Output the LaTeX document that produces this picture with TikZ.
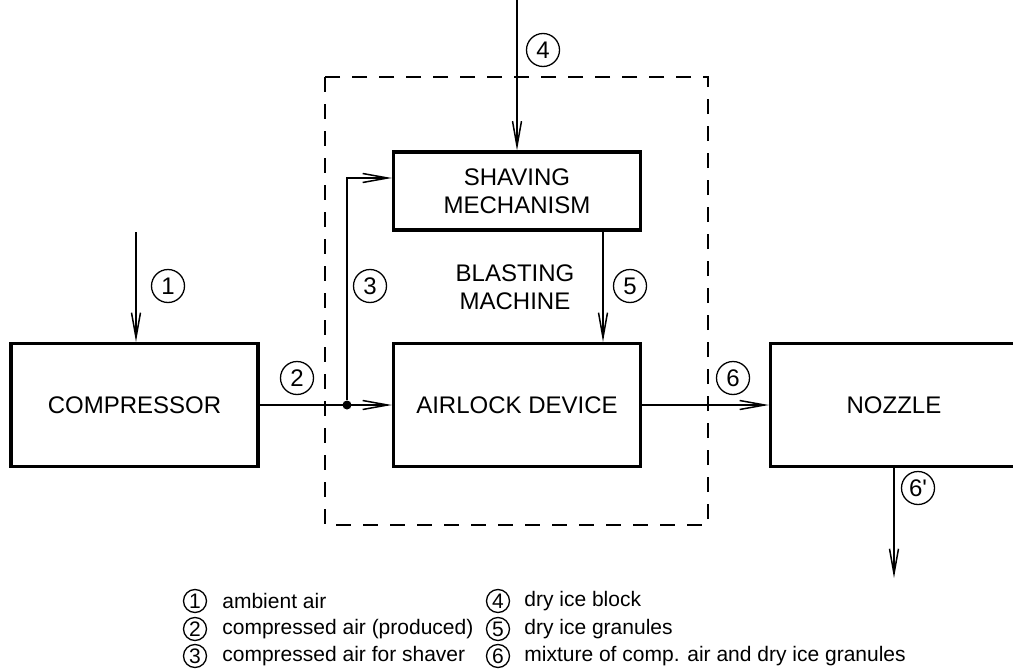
\documentclass[tikz,border=0pt]{standalone}
\usepackage{fontspec}
\setmainfont{Liberation Sans}
\usetikzlibrary{arrows.meta}

\tikzset{
  unit/.style={draw,line width=1.6pt,minimum width=123.5pt,minimum height=61.5pt,
    align=center,font=\fontsize{12}{14}\selectfont},
  flow/.style={line width=0.75pt,-{Straight Barb[length=12.5pt,width=4.5pt]}},
  num/.style={circle,draw,line width=0.65pt,inner sep=0pt,minimum size=16.5pt,
    font=\fontsize{12}{12}\selectfont},
  keynum/.style={circle,draw,line width=0.65pt,inner sep=0pt,minimum size=11.5pt,
    font=\fontsize{10.5}{12}\selectfont},
  keytext/.style={anchor=west,inner sep=0pt,font=\fontsize{10.5}{13}\selectfont}
}

\begin{document}
\begin{tikzpicture}[x=0.5pt,y=-0.5pt]
\useasboundingbox (0,0) rectangle (1013,669);
% blasting machine frame
\draw[line width=1.1pt,dash pattern=on 7.5pt off 6pt] (325,77) rectangle (708,525);
\node at (515,287) (blast) [align=center,font=\fontsize{12}{14}\selectfont]
  {BLASTING\\MACHINE};

% units
\node[unit] (comp) at (134.5,405) {COMPRESSOR};
\node[unit] (airlock) at (517,405) {AIRLOCK DEVICE};
\node[unit] (nozzle) at (894,405) {NOZZLE};
\node[unit,minimum height=39pt] (shave) at (517,191) {SHAVING\\MECHANISM};
\node[circle,fill,inner sep=0pt,minimum size=4.5pt] (split) at (347,405) {};

% free ends
\coordinate (in1) at (136,232);
\coordinate (in4) at (517,0);
\coordinate (out6) at (894,578);

% flows
\draw[flow] (in1) -- (in1 |- comp.north);
\draw[flow] (in4) -- (shave.north);
\draw[flow] (comp) -- (airlock);
\draw[flow] (split) |- ([yshift=6.5pt]shave.west);
\draw[flow] ([xshift=43pt]shave.south) -- ([xshift=43pt]airlock.north);
\draw[flow] (airlock) -- (nozzle);
\draw[flow] (nozzle) -- (out6);

% stream numbers
\node[num] (n1) at (168,286) {1};
\node[num] (n2) at (297,378) {2};
\node[num] (n3) at (370,286) {3};
\node[num] (n4) at (543,50) {4};
\node[num] (n5) at (630,286) {5};
\node[num] (n6) at (733,378) {6};
\node[num] (n6b) at (918,488) {6\textquotesingle};

% key
\node[keynum] (k1) at (195,601) {1};
\node[keytext] (t1) at (222,601) {ambient air};
\node[keynum] (k2) at (195,629) {2};
\node[keytext] (t2) at (222,629) {compressed air (produced)};
\node[keynum] (k3) at (195,656) {3};
\node[keytext] (t3) at (222,656) {compressed air for shaver};
\node[keynum] (k4) at (498,601) {4};
\node[keytext] (t4) at (524,601) {dry ice block};
\node[keynum] (k5) at (498,629) {5};
\node[keytext] (t5) at (524,629) {dry ice granules};
\node[keynum] (k6) at (498,656) {6};
\node[keytext] (t6) at (524,656) {mixture of comp. air and dry ice granules};
\end{tikzpicture}
\end{document}
